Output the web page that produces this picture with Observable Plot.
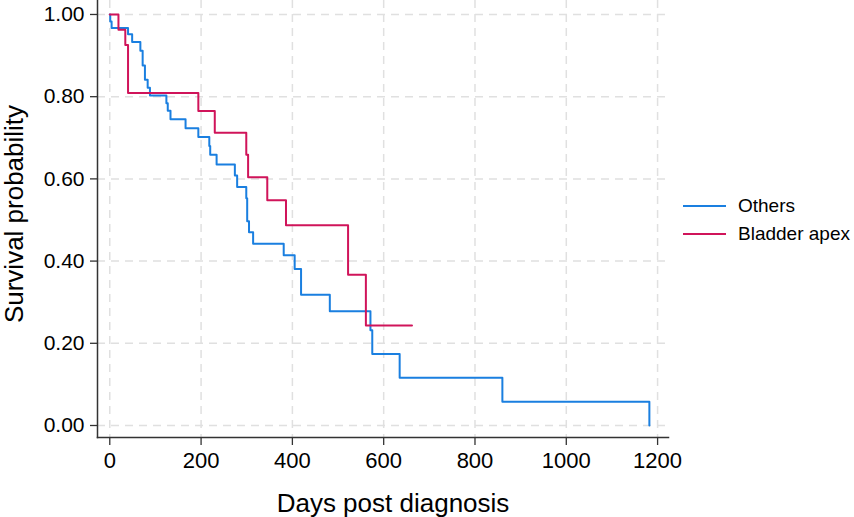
<!DOCTYPE html>
<html><head><meta charset="utf-8">
<script src="https://cdn.jsdelivr.net/npm/d3@7"></script>
<script src="https://cdn.jsdelivr.net/npm/@observablehq/plot@0.6"></script>
<style>
body{margin:0;background:#fff;}
#wrap{position:relative;width:854px;height:517px;font-family:"Liberation Sans",Arial,sans-serif;background:#fff;}
.legend{position:absolute;left:683px;top:192px;font-size:19px;color:#000;white-space:nowrap;}
.item{display:flex;align-items:center;height:28px;}
.swatch{width:43px;height:0;border-top:2px solid;margin-right:12px;}
</style></head><body><div id="wrap"></div>
<script>
// Kaplan-Meier steps
const othersDays = [0,1,4,40,49,67,72,77,83,88,124,127,133,166,194,218,220,234,274,279,299,301,305,314,381,405,419,482,571,575,635,860,1182];
const othersSurv = [1,0.983,0.967,0.952,0.933,0.912,0.876,0.841,0.822,0.803,0.784,0.766,0.745,0.723,0.702,0.68,0.659,0.635,0.608,0.58,0.553,0.497,0.47,0.442,0.414,0.381,0.318,0.278,0.232,0.174,0.116,0.058,0];
const apexDays = [0,19,34,40,194,230,299,303,345,386,522,561,662];
const apexSurv = [1,0.963,0.926,0.809,0.765,0.712,0.659,0.604,0.548,0.487,0.367,0.243,0.243];
const groups = ["Others","Bladder apex"];
const colors = ["#1a7fe0","#d0145a"];
const xTicks = [0,200,400,600,800,1000,1200];
const yTicks = [0,0.2,0.4,0.6,0.8,1.0];
const xTitle = "Days post diagnosis";
const yTitle = "Survival probability";

const data = [
  ...othersDays.map((d,i)=>({group:groups[0], t:d, s:othersSurv[i]})),
  ...apexDays.map((d,i)=>({group:groups[1], t:d, s:apexSurv[i]}))
];

const gridStyle = {stroke:"#e0e0e0", strokeOpacity:1, strokeWidth:1.5, strokeDasharray:"8,6"};

const chart = Plot.plot({
  width:854, height:517,
  marginLeft:97, marginRight:186, marginTop:0, marginBottom:80,
  style:{fontFamily:"Liberation Sans, Arial, sans-serif", fontSize:"22px", color:"#000", background:"#fff"},
  x:{domain:[-26.9,1223.9], label:null},
  y:{domain:[-0.0292,1.034], label:null},
  color:{domain:groups, range:colors},
  marks:[
    Plot.gridX(xTicks, gridStyle),
    Plot.gridY(yTicks, gridStyle),
    Plot.line(data,{x:"t", y:"s", z:"group", stroke:"group", curve:"step-after", strokeWidth:2}),
    Plot.axisX(xTicks,{tickFormat:"d", tickSize:8, tickPadding:7, stroke:"#333", strokeWidth:1.3, fill:"#000", fontSize:22, label:null}),
    Plot.axisY(yTicks,{tickFormat:".2f", tickSize:7, tickPadding:6, stroke:"#333", strokeWidth:1.3, fill:"#000", fontSize:21, label:null}),
    Plot.frame({anchor:"left", stroke:"#333", strokeWidth:1.5}),
    Plot.frame({anchor:"bottom", stroke:"#333", strokeWidth:1.5}),
    Plot.text([xTitle],{frameAnchor:"bottom", textAnchor:"middle", dx:10, dy:66, fontSize:26, fill:"#000", lineAnchor:"middle"}),
    Plot.text([yTitle],{frameAnchor:"left", textAnchor:"middle", dx:-83, dy:-5, rotate:-90, fontSize:26, fill:"#000", lineAnchor:"middle"})
  ]
});
const wrap = document.getElementById("wrap");
wrap.appendChild(chart);
const leg = document.createElement("div");
leg.className = "legend";
groups.forEach((g,i)=>{
  const it = document.createElement("div"); it.className="item";
  const sw = document.createElement("span"); sw.className="swatch"; sw.style.borderTopColor = colors[i];
  const tx = document.createElement("span"); tx.textContent = g;
  it.appendChild(sw); it.appendChild(tx); leg.appendChild(it);
});
wrap.appendChild(leg);
</script></body></html>
